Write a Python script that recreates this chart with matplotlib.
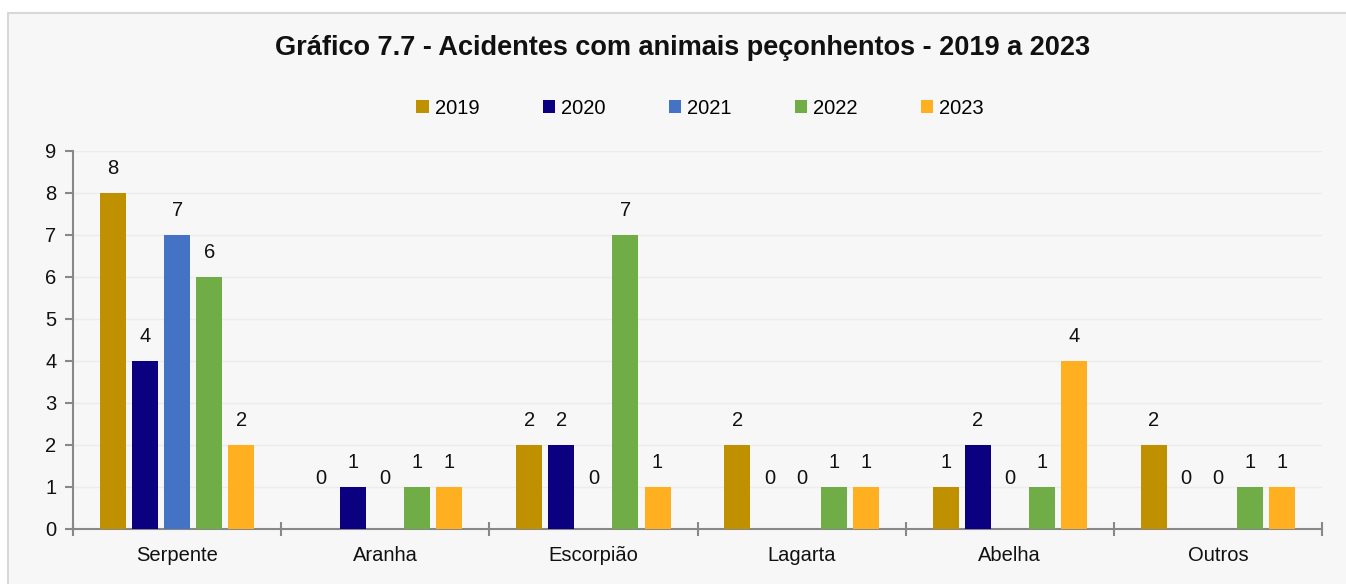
import matplotlib.pyplot as plt
from matplotlib.patches import Patch, Rectangle
import numpy as np

plt.rcParams['font.family'] = ['Liberation Sans', 'DejaVu Sans']

# categories and yearly counts
categorias = ['Serpente', 'Aranha', 'Escorpião', 'Lagarta', 'Abelha', 'Outros']
anos = ['2019', '2020', '2021', '2022', '2023']
v2019 = [8, 0, 2, 2, 1, 2]
v2020 = [4, 1, 2, 0, 2, 0]
v2021 = [7, 0, 0, 0, 0, 0]
v2022 = [6, 1, 7, 1, 1, 1]
v2023 = [2, 1, 1, 1, 4, 1]
series = [v2019, v2020, v2021, v2022, v2023]
cores = ['#bf9000', '#0a0080', '#4472c4', '#70ad47', '#ffb020']

fig = plt.figure(figsize=(13.46, 5.84), dpi=100)
fig.patch.set_facecolor('white')
# panel background with light border
fig.patches.append(Rectangle((8 / 1346, -0.1), 1.1, 1 - 13 / 584 + 0.1,
                             transform=fig.transFigure, facecolor='#f7f7f7',
                             edgecolor='#d8d8d8', linewidth=1.5, zorder=-10))

ax = fig.add_axes([73 / 1346, 1 - 529 / 584, (1322 - 73) / 1346, (529 - 151) / 584])
ax.set_facecolor('#f7f7f7')

x = np.arange(len(categorias))
largura = 0.125
passo = 0.154
for i, (vals, cor) in enumerate(zip(series, cores)):
    pos = x + (i - 2) * passo
    ax.bar(pos, vals, width=largura, color=cor, zorder=3)
    for p, v in zip(pos, vals):
        off = 36.7 if v == 0 else 17.3
        ax.annotate(str(v), (p, v), xytext=(0, off), textcoords='offset points',
                    ha='center', va='center', fontsize=14.5, color='#111111')

ax.set_xlim(-0.5, len(categorias) - 0.5)
ax.set_ylim(0, 9)
ax.set_yticks(range(0, 10))
for yv in range(1, 10):
    ax.axhline(yv, color='#ececec', linewidth=1, zorder=1)

for s in ['top', 'right']:
    ax.spines[s].set_visible(False)
for s in ['left', 'bottom']:
    ax.spines[s].set_color('#888888')
    ax.spines[s].set_linewidth(1.5)

ax.set_xticks(x)
ax.set_xticklabels(categorias)
ax.set_xticks(np.arange(-0.5, len(categorias)), minor=True)
ax.tick_params(axis='x', which='major', length=0, pad=12, labelsize=14.5, labelcolor='#111111')
ax.tick_params(axis='x', which='minor', length=10, direction='inout', width=1.5, color='#888888')
ax.tick_params(axis='y', length=6, width=1.5, color='#888888', pad=6,
               labelsize=14.5, labelcolor='#111111')

fig.text(683 / 1346, 1 - 48 / 584, 'Gráfico 7.7 - Acidentes com animais peçonhentos - 2019 a 2023',
         ha='center', va='center', fontsize=19.5, fontweight='bold', color='#111111')

handles = [Patch(facecolor=c, label=a) for c, a in zip(cores, anos)]
fig.legend(handles=handles, loc='center', bbox_to_anchor=(700 / 1346, 1 - 108 / 584),
           ncol=5, frameon=False, fontsize=14.5, handlelength=0.6, handleheight=0.6,
           handletextpad=0.3, columnspacing=3.15)

fig.savefig('out.png', dpi=100, facecolor=fig.get_facecolor())
